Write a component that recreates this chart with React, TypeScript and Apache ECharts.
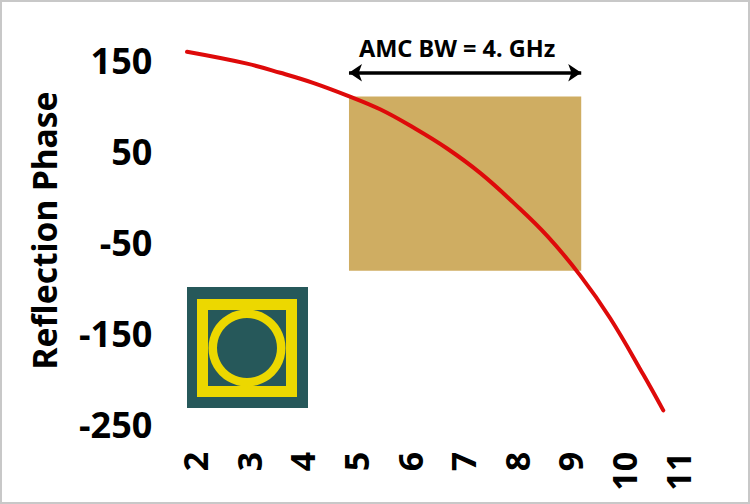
import React, { useEffect, useRef } from "react";
import * as echarts from "echarts";

const freq = [1.85, 2.97, 3.59, 4.2, 4.84, 5.45, 6.07, 6.7, 7.32, 7.93, 8.57, 9.18, 9.74, 10.36, 10.73];
const phase = [159, 146, 136, 125, 111, 96, 76, 53, 26, -6, -43, -86, -133, -195, -234];
const bandX = [4.87, 9.2];
const bandY = [-81, 110];
const arrowY = 136;
const xTicks = [2, 3, 4, 5, 6, 7, 8, 9, 10, 11];
const yTicks = [-250, -150, -50, 50, 150];
const FONT = "Noto Sans";

export default function App() {
  const ref = useRef<HTMLDivElement>(null);
  useEffect(() => {
    document.body.style.margin = "0";
    const chart = echarts.init(ref.current!, null, { renderer: "svg" });
    chart.setOption({
      animation: false,
      backgroundColor: "#fff",
      grid: { left: 141.4, right: 18.6, top: 37.2, height: 410.6 },
      xAxis: {
        type: "value", min: 1, max: 12, interval: 1,
        splitLine: { show: false }, axisLine: { show: false }, axisTick: { show: false },
        axisLabel: {
          rotate: 90, margin: 4, fontFamily: FONT, fontWeight: "bold", fontSize: 34, color: "#000",
          formatter: (v: number) => (xTicks.includes(v) ? String(v) : ""),
        },
      },
      yAxis: {
        type: "value", min: -275, max: 175, interval: 25,
        name: "Reflection Phase", nameLocation: "middle", nameRotate: 90, nameGap: 80,
        nameTextStyle: { fontFamily: FONT, fontWeight: "bold", fontSize: 33.5, color: "#000", padding: [0, 0, 0, 24] },
        splitLine: { show: false }, axisLine: { show: false }, axisTick: { show: false },
        axisLabel: {
          margin: -11, fontFamily: FONT, fontWeight: "bold", fontSize: 36, color: "#000",
          formatter: (v: number) => (yTicks.includes(v) ? String(v) : ""),
        },
      },
      series: [
        {
          type: "line", data: freq.map((f, i) => [f, phase[i]]), smooth: 0.4, symbol: "none", z: 5,
          lineStyle: { color: "#DE0A0A", width: 4, cap: "round" },
          markArea: {
            silent: true, z: 1,
            itemStyle: { color: "#CFAD62", opacity: 1 },
            data: [[{ coord: [bandX[0], bandY[0]] }, { coord: [bandX[1], bandY[1]] }]],
          },
          markLine: {
            silent: true, symbol: ["arrow", "arrow"], symbolSize: [13, 13], animation: false,
            lineStyle: { color: "#000", width: 3.5, type: "solid" },
            label: {
              show: true, position: "middle", formatter: "AMC BW = 4. GHz", distance: 13,
              padding: [0, 16, 0, 0],
              fontFamily: FONT, fontWeight: "bold", fontSize: 23.5, color: "#000",
            },
            data: [[{ coord: [bandX[0], arrowY] }, { coord: [bandX[1], arrowY] }]],
          },
        },
      ],
      graphic: [
        { type: "rect", shape: { x: 1, y: 1, width: 748, height: 502 }, style: { fill: "none", stroke: "#c8c8c8", lineWidth: 2 }, silent: true },
        { type: "rect", shape: { x: 187, y: 287, width: 121, height: 121 }, style: { fill: "#26585A" }, z: 10 },
        { type: "rect", shape: { x: 202.5, y: 304.5, width: 89, height: 87 }, style: { fill: "none", stroke: "#ECD800", lineWidth: 11 }, z: 11 },
        { type: "ring", shape: { cx: 247, cy: 348, r: 38.5, r0: 30 }, style: { fill: "#ECD800" }, z: 12 },
      ],
    });
    return () => chart.dispose();
  }, []);
  return <div ref={ref} style={{ width: 750, height: 504 }} />;
}
